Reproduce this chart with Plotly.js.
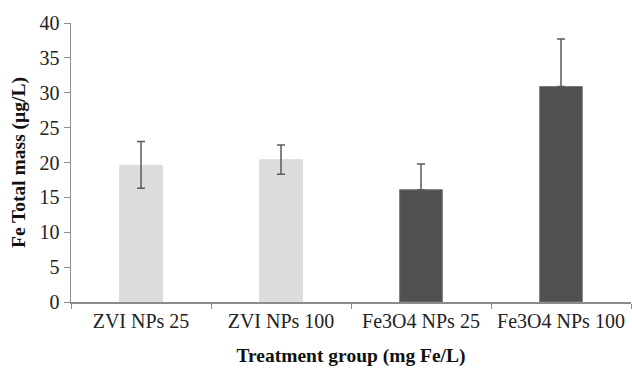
<!DOCTYPE html>
<html>
<head>
<meta charset="utf-8">
<script src="https://cdn.plot.ly/plotly-3.0.1.min.js"></script>
<style>html,body{margin:0;padding:0;background:#fff;}#chart{width:632px;height:370px;}</style>
</head>
<body>
<div id="chart"></div>
<script>
var categories = ["ZVI NPs 25", "ZVI NPs 100", "Fe3O4 NPs 25", "Fe3O4 NPs 100"];
var meanValues = [19.6, 20.4, 16.1, 30.9];
var errorPlus = [3.4, 2.1, 3.7, 6.8];
var errorMinus = [3.3, 2.1, 0, 0];
var barColors = ["#dcdcdc", "#dcdcdc", "#505050", "#505050"];
var barLineColors = ["#dcdcdc", "#dcdcdc", "#7a7a7a", "#7a7a7a"];
var yTicks = [0, 5, 10, 15, 20, 25, 30, 35, 40];

var trace = {
  type: "bar",
  x: categories,
  y: meanValues,
  width: 0.305,
  marker: {color: barColors, line: {color: barLineColors, width: 1}},
  error_y: {
    type: "data",
    symmetric: false,
    array: errorPlus,
    arrayminus: errorMinus,
    color: "#595959",
    thickness: 1.5,
    width: 4
  },
  hoverinfo: "none"
};

var serif = "'Liberation Serif', 'DejaVu Serif', serif";
var layout = {
  width: 632,
  height: 370,
  margin: {l: 71, r: 1, t: 23, b: 68},
  paper_bgcolor: "#ffffff",
  plot_bgcolor: "#ffffff",
  showlegend: false,
  font: {family: serif, color: "#222222", size: 20},
  xaxis: {
    type: "category",
    tickson: "boundaries",
    ticks: "outside",
    ticklen: 5,
    tickcolor: "#8c8c8c",
    showline: true,
    linecolor: "#8c8c8c",
    linewidth: 1.5,
    showgrid: false,
    zeroline: false,
    tickfont: {family: serif, size: 20, color: "#222222"},
    title: {text: "<b>Treatment group (mg Fe/L)</b>", font: {family: serif, size: 19.5, color: "#111111"}, standoff: 18},
    automargin: false
  },
  yaxis: {
    range: [0, 40],
    tickvals: yTicks,
    ticks: "outside",
    ticklen: 6,
    tickcolor: "#8c8c8c",
    showline: true,
    linecolor: "#8c8c8c",
    linewidth: 1.5,
    showgrid: false,
    zeroline: false,
    tickfont: {family: serif, size: 20, color: "#222222"},
    title: {text: "<b>Fe Total mass (µg/L)</b>", font: {family: serif, size: 19.5, color: "#111111"}, standoff: 8},
    automargin: false
  }
};

Plotly.newPlot("chart", [trace], layout, {staticPlot: true, displayModeBar: false});
</script>
</body>
</html>
